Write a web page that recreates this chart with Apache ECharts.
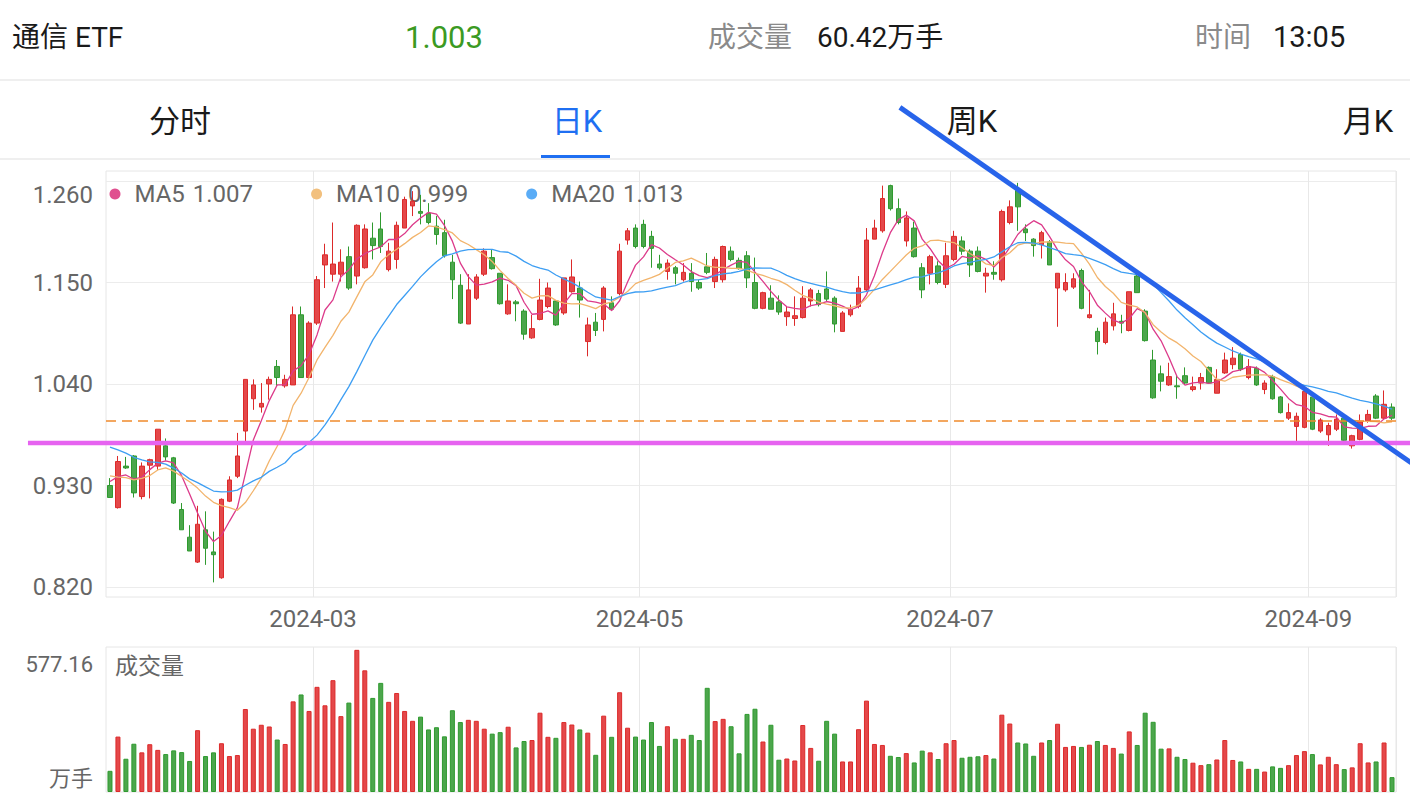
<!DOCTYPE html>
<html><head><meta charset="utf-8">
<script src="https://cdn.jsdelivr.net/npm/echarts@6/dist/echarts.min.js"></script>
<style>html,body{margin:0;padding:0;background:#fff}#c{width:1410px;height:804px}</style>
</head><body><div id="c"></div>
<script>
// ---------- data ----------
const dates = [
'2024-01-17','2024-01-18','2024-01-19','2024-01-22','2024-01-23','2024-01-24','2024-01-25','2024-01-26','2024-01-29','2024-01-30','2024-01-31',
'2024-02-01','2024-02-02','2024-02-05','2024-02-06','2024-02-07','2024-02-08','2024-02-19','2024-02-20','2024-02-21','2024-02-22','2024-02-23','2024-02-26','2024-02-27','2024-02-28','2024-02-29',
'2024-03-01','2024-03-04','2024-03-05','2024-03-06','2024-03-07','2024-03-08','2024-03-11','2024-03-12','2024-03-13','2024-03-14','2024-03-15','2024-03-18','2024-03-19','2024-03-20','2024-03-21','2024-03-22','2024-03-25','2024-03-26','2024-03-27','2024-03-28','2024-03-29',
'2024-04-01','2024-04-02','2024-04-03','2024-04-08','2024-04-09','2024-04-10','2024-04-11','2024-04-12','2024-04-15','2024-04-16','2024-04-17','2024-04-18','2024-04-19','2024-04-22','2024-04-23','2024-04-24','2024-04-25','2024-04-26','2024-04-29','2024-04-30',
'2024-05-06','2024-05-07','2024-05-08','2024-05-09','2024-05-10','2024-05-13','2024-05-14','2024-05-15','2024-05-16','2024-05-17','2024-05-20','2024-05-21','2024-05-22','2024-05-23','2024-05-24','2024-05-27','2024-05-28','2024-05-29','2024-05-30','2024-05-31',
'2024-06-03','2024-06-04','2024-06-05','2024-06-06','2024-06-07','2024-06-11','2024-06-12','2024-06-13','2024-06-14','2024-06-17','2024-06-18','2024-06-19','2024-06-20','2024-06-21','2024-06-24','2024-06-25','2024-06-26','2024-06-27','2024-06-28',
'2024-07-01','2024-07-02','2024-07-03','2024-07-04','2024-07-05','2024-07-08','2024-07-09','2024-07-10','2024-07-11','2024-07-12','2024-07-15','2024-07-16','2024-07-17','2024-07-18','2024-07-19','2024-07-22','2024-07-23','2024-07-24','2024-07-25','2024-07-26','2024-07-29','2024-07-30','2024-07-31',
'2024-08-01','2024-08-02','2024-08-05','2024-08-06','2024-08-07','2024-08-08','2024-08-09','2024-08-12','2024-08-13','2024-08-14','2024-08-15','2024-08-16','2024-08-19','2024-08-20','2024-08-21','2024-08-22','2024-08-23','2024-08-26','2024-08-27','2024-08-28','2024-08-29','2024-08-30',
'2024-09-02','2024-09-03','2024-09-04','2024-09-05','2024-09-06','2024-09-09','2024-09-10','2024-09-11','2024-09-12','2024-09-13','2024-09-18'
];
const opens = [
0.930,0.906,0.951,0.962,0.918,0.952,0.951,0.973,0.960,0.904,0.874,0.847,0.882,0.858,0.830,0.913,0.940,0.989,1.024,1.015,
1.040,1.059,1.038,1.039,1.115,1.047,1.106,1.169,1.159,1.159,1.178,1.157,1.166,1.198,1.208,1.164,1.175,1.209,1.233,1.227,
1.225,1.211,1.204,1.172,1.147,1.105,1.133,1.159,1.177,1.160,1.116,1.129,1.119,1.090,1.110,1.124,1.130,1.117,1.140,1.144,
1.086,1.107,1.110,1.128,1.138,1.196,1.209,1.213,1.200,1.170,1.162,1.166,1.153,1.160,1.150,1.167,1.151,1.153,1.184,1.174,
1.179,1.150,1.122,1.133,1.129,1.113,1.111,1.112,1.130,1.138,1.143,1.133,1.097,1.115,1.124,1.142,1.197,1.206,1.255,1.230,
1.195,1.209,1.166,1.160,1.168,1.148,1.175,1.195,1.184,1.184,1.157,1.161,1.153,1.215,1.250,1.208,1.197,1.191,1.194,1.144,
1.142,1.145,1.163,1.112,1.097,1.085,1.103,1.108,1.098,1.157,1.119,1.066,1.051,1.039,1.038,1.049,1.034,1.041,1.058,1.030,
1.052,1.061,1.072,1.047,1.057,1.034,1.048,1.026,1.003,0.994,0.993,1.026,0.989,0.985,0.991,1.003,0.973,0.980,1.000,1.027,
1.003,1.015
];
const closes = [
0.917,0.956,0.949,0.922,0.951,0.958,0.991,0.961,0.911,0.882,0.859,0.888,0.862,0.855,0.915,0.936,0.962,1.045,1.039,1.019,
1.045,1.047,1.045,1.115,1.047,1.106,1.153,1.180,1.170,1.172,1.144,1.212,1.208,1.190,1.189,1.184,1.212,1.240,1.238,1.225,
1.215,1.202,1.179,1.153,1.106,1.142,1.156,1.184,1.165,1.127,1.130,1.127,1.094,1.100,1.131,1.144,1.104,1.155,1.156,1.131,
1.104,1.098,1.144,1.121,1.184,1.206,1.189,1.189,1.187,1.166,1.171,1.160,1.161,1.151,1.144,1.161,1.175,1.189,1.175,1.165,
1.155,1.122,1.139,1.121,1.118,1.118,1.114,1.133,1.142,1.126,1.132,1.105,1.117,1.121,1.144,1.196,1.209,1.241,1.230,1.215,
1.220,1.178,1.142,1.178,1.150,1.179,1.200,1.184,1.169,1.162,1.160,1.159,1.227,1.232,1.232,1.204,1.190,1.204,1.169,1.160,
1.150,1.154,1.122,1.115,1.086,1.107,1.116,1.106,1.140,1.139,1.087,1.025,1.043,1.048,1.037,1.041,1.037,1.047,1.041,1.045,
1.066,1.068,1.056,1.059,1.039,1.041,1.024,1.009,1.009,1.005,1.032,0.991,1.001,0.995,1.002,0.979,0.984,0.999,1.007,1.003,
1.018,1.003
];
const lows = [
0.917,0.905,0.948,0.917,0.915,0.916,0.947,0.957,0.910,0.882,0.859,0.846,0.844,0.825,0.829,0.912,0.938,0.978,1.012,1.009,
1.023,1.038,1.036,1.039,1.047,1.047,1.104,1.144,1.151,1.151,1.142,1.148,1.165,1.175,1.182,1.162,1.165,1.209,1.222,1.213,
1.213,1.191,1.177,1.132,1.105,1.105,1.131,1.157,1.164,1.126,1.115,1.108,1.088,1.089,1.109,1.122,1.103,1.115,1.139,1.112,
1.070,1.092,1.097,1.119,1.136,1.191,1.187,1.187,1.166,1.164,1.153,1.148,1.151,1.140,1.142,1.159,1.144,1.150,1.173,1.164,
1.144,1.121,1.121,1.121,1.115,1.103,1.103,1.111,1.124,1.124,1.130,1.096,1.097,1.113,1.122,1.140,1.197,1.204,1.228,1.213,
1.189,1.177,1.133,1.148,1.148,1.144,1.173,1.180,1.156,1.161,1.139,1.153,1.151,1.213,1.206,1.195,1.178,1.176,1.169,1.102,
1.140,1.143,1.121,1.111,1.072,1.083,1.098,1.095,1.097,1.139,1.086,1.024,1.032,1.038,1.024,1.040,1.032,1.034,1.040,1.030,
1.051,1.056,1.054,1.045,1.038,1.029,1.023,1.008,1.001,0.978,0.992,0.990,0.987,0.973,0.989,0.978,0.970,0.979,0.998,1.002,
1.002,1.001
];
const highs = [
0.938,0.962,0.961,0.963,0.955,0.959,0.991,0.981,0.961,0.911,0.887,0.908,0.902,0.880,0.916,0.940,0.987,1.045,1.045,1.041,
1.048,1.066,1.050,1.124,1.124,1.108,1.157,1.192,1.215,1.186,1.189,1.213,1.213,1.215,1.226,1.193,1.216,1.243,1.249,1.245,
1.236,1.222,1.218,1.180,1.159,1.159,1.159,1.187,1.186,1.160,1.148,1.131,1.121,1.115,1.154,1.150,1.131,1.155,1.175,1.151,
1.112,1.117,1.146,1.135,1.192,1.209,1.213,1.218,1.206,1.180,1.175,1.168,1.171,1.171,1.153,1.182,1.178,1.190,1.189,1.177,
1.184,1.177,1.140,1.147,1.136,1.124,1.135,1.146,1.144,1.142,1.162,1.135,1.119,1.126,1.157,1.209,1.218,1.255,1.256,1.241,
1.227,1.216,1.171,1.180,1.173,1.193,1.206,1.200,1.186,1.189,1.166,1.173,1.229,1.239,1.258,1.213,1.198,1.206,1.196,1.160,
1.160,1.160,1.165,1.142,1.101,1.112,1.128,1.115,1.140,1.160,1.121,1.077,1.060,1.063,1.049,1.058,1.048,1.052,1.059,1.056,
1.074,1.080,1.074,1.067,1.059,1.044,1.050,1.027,1.019,1.009,1.033,1.027,1.003,0.998,1.007,1.005,0.985,1.007,1.012,1.029,
1.033,1.019
];
// volume in 万手
const volumes = [
86,225,135,196,161,194,171,154,169,162,126,251,146,161,198,146,150,337,257,273,
266,213,195,368,396,329,427,352,454,308,363,577.16,494,382,443,366,402,329,289,306,
254,263,226,332,284,293,289,257,237,243,265,181,207,211,322,224,220,284,274,254,
241,151,310,224,405,261,225,213,284,187,267,216,216,232,211,423,288,297,267,157,
317,338,205,273,131,136,128,272,179,127,289,237,124,124,255,371,195,191,147,142,
158,120,168,161,134,198,211,139,143,145,150,136,314,278,201,197,147,201,211,277,
183,187,183,192,207,191,179,156,246,191,322,285,176,177,143,134,119,109,113,132,
211,130,124,94,94,83,104,98,109,150,166,154,112,143,113,93,100,198,120,124,
201,60.42
];
// closes before the visible window (estimated, only used to seed the moving averages)
const priorCloses = [1.020,1.015,1.012,1.008,1.005,1.000,0.998,0.995,0.990,0.985,0.970,0.955,0.945,0.935,0.928,0.930,0.940,0.945,0.940];
const maPeriods = [5, 10, 20];
const maNames = ['MA5', 'MA10', 'MA20'];
const maLegendValues = ['1.007', '0.999', '1.013'];
const yTickMin = 0.82, yTickMax = 1.26, yTickStep = 0.11;
const xTickLabels = ['2024-03', '2024-05', '2024-07', '2024-09'];
const supportLevel = 0.976;
const supportExtentIdx = [-10.3, 163.4];
const trendPoints = [['2024-07-11', 1.251], ['2024-09-09', 0.999]];
const trendExtentIdx = [99.2, 163.4];
const stockName = '通信 ETF';
const quoteTime = '13:05';
const tabs = ['分时', '日K', '周K', '月K'];

// ---------- build ----------
const FONT = 'Roboto, "Noto Sans CJK SC", sans-serif';
const RED = '#e4484a', RED_B = '#dc2a2a', GREEN = '#4ca64c', GREEN_B = '#2f9a2f';
const maColors = ['#dc3a8a', '#f2b46c', '#3d9ef3'];
const maDotColors = ['#e0508f', '#f2c07e', '#5aacf6'];

function movingAverage(n) {
  const all = priorCloses.concat(closes);
  const off = priorCloses.length;
  return closes.map((_, i) => {
    let s = 0;
    for (let k = 0; k < n; k++) s += all[off + i - k];
    return +(s / n).toFixed(4);
  });
}
const tickIdx = xTickLabels.map(l => dates.findIndex(d => d.startsWith(l)));
const isTick = i => tickIdx.indexOf(i) >= 0;
const kData = dates.map((d, i) => [opens[i], closes[i], lows[i], highs[i]]);
const volData = volumes.map((v, i) => ({
  value: v,
  itemStyle: closes[i] >= opens[i] ? { color: RED, borderColor: RED_B } : { color: GREEN, borderColor: GREEN_B }
}));
const volMax = Math.max(...volumes);
const lastPrice = closes[closes.length - 1];
const lastVol = volumes[volumes.length - 1];

const tabCenters = [180, 577, 972, 1368];
const HF = 28;
const graphics = [
  { type: 'text', x: 12, y: 37, style: { text: stockName, fontSize: HF, fontFamily: FONT, fill: '#1a1a1a', align: 'left', verticalAlign: 'middle' } },
  { type: 'text', x: 444, y: 37, style: { text: lastPrice.toFixed(3), fontSize: 31, fontFamily: FONT, fill: '#3b9a23', align: 'center', verticalAlign: 'middle' } },
  { type: 'text', x: 708, y: 37, style: { text: '成交量', fontSize: HF, fontFamily: FONT, fill: '#8a8a8a', align: 'left', verticalAlign: 'middle' } },
  { type: 'text', x: 817, y: 37, style: { text: lastVol.toFixed(2) + '万手', fontSize: HF, fontFamily: FONT, fill: '#1a1a1a', align: 'left', verticalAlign: 'middle' } },
  { type: 'text', x: 1195, y: 37, style: { text: '时间', fontSize: HF, fontFamily: FONT, fill: '#8a8a8a', align: 'left', verticalAlign: 'middle' } },
  { type: 'text', x: 1273, y: 37, style: { text: quoteTime, fontSize: 29, fontFamily: FONT, fill: '#1a1a1a', align: 'left', verticalAlign: 'middle' } },
  { type: 'rect', shape: { x: 0, y: 79, width: 1410, height: 2 }, style: { fill: '#efefef' } },
  { type: 'rect', shape: { x: 0, y: 158, width: 1410, height: 2 }, style: { fill: '#efefef' } },
  { type: 'rect', shape: { x: 541, y: 155, width: 69, height: 3 }, style: { fill: '#1f6ff2' } },
  { type: 'text', x: 93, y: 664, style: { text: String(volMax), fontSize: 22, fontFamily: FONT, fill: '#666', align: 'right', verticalAlign: 'middle' } },
  { type: 'text', x: 93, y: 778, style: { text: '万手', fontSize: 22, fontFamily: FONT, fill: '#666', align: 'right', verticalAlign: 'middle' } },
  { type: 'text', x: 115, y: 666, style: { text: '成交量', fontSize: 23, fontFamily: FONT, fill: '#666', align: 'left', verticalAlign: 'middle' } }
];
tabs.forEach((t, i) => graphics.push({ type: 'text', x: tabCenters[i], y: 121, style: { text: t, fontSize: 31, fontFamily: FONT, fill: i === 1 ? '#1f6ff2' : '#1a1a1a', align: 'center', verticalAlign: 'middle' } }));

const series = [
  {
    name: 'K', type: 'candlestick', xAxisIndex: 1, yAxisIndex: 1, data: kData, barWidth: 5,
    itemStyle: { color: RED, color0: GREEN, borderColor: RED_B, borderColor0: GREEN_B, borderWidth: 1 },
    markLine: { symbol: 'none', silent: true, label: { show: false }, lineStyle: { type: [10, 6], color: '#f08a2c', width: 1.5 }, data: [{ yAxis: lastPrice }] }
  }
];
maPeriods.forEach((p, k) => series.push({
  name: maNames[k], type: 'line', xAxisIndex: 1, yAxisIndex: 1, data: movingAverage(p), showSymbol: false, symbol: 'none',
  lineStyle: { color: maColors[k], width: 1.3 }, itemStyle: { color: maDotColors[k] }, z: 3
}));
series.push({ name: 'VOL', type: 'bar', xAxisIndex: 2, yAxisIndex: 2, data: volData, barWidth: 5, itemStyle: { borderWidth: 1 } });

const option = {
  animation: false,
  textStyle: { fontFamily: FONT },
  grid: [
    { left: 106, right: 14, top: 171, height: 426, show: true, borderColor: '#e6e6e6', borderWidth: 1 },
    { left: 106, right: 14, top: 181, height: 406 },
    { left: 106, right: 14, top: 647, height: 145, show: true, borderColor: '#e6e6e6', borderWidth: 1 }
  ],
  xAxis: [
    { gridIndex: 0, type: 'category', data: dates, boundaryGap: true, axisLine: { show: false }, axisTick: { show: false },
      splitLine: { show: true, interval: i => isTick(i), lineStyle: { color: '#e8e8e8' } },
      axisLabel: { interval: i => isTick(i), formatter: v => v.slice(0, 7), color: '#666', fontSize: 24, margin: 10, padding: [0, 8, 0, 0] } },
    { gridIndex: 1, type: 'category', data: dates, boundaryGap: true, show: false },
    { gridIndex: 2, type: 'category', data: dates, boundaryGap: true, axisLine: { show: false }, axisTick: { show: false }, axisLabel: { show: false },
      splitLine: { show: true, interval: i => isTick(i), lineStyle: { color: '#e8e8e8' } } }
  ],
  yAxis: [
    { gridIndex: 0, type: 'value', show: false, min: 0, max: 1 },
    { gridIndex: 1, type: 'value', min: yTickMin, max: yTickMax, interval: yTickStep, axisLine: { show: false }, axisTick: { show: false },
      splitLine: { lineStyle: { color: '#ececec' } },
      axisLabel: { color: '#666', fontSize: 24, margin: 13,
        formatter: v => Math.abs(v - yTickMax) < 1e-6 ? '{t|' + v.toFixed(3) + '}' : v.toFixed(3),
        rich: { t: { padding: [28, 0, 0, 0], fontSize: 24, color: '#666', fontFamily: FONT } } } },
    { gridIndex: 2, type: 'value', min: 0, max: volMax * 1.02, show: false }
  ],
  legend: {
    data: maNames.map((n, k) => ({ name: n, itemStyle: { color: maDotColors[k] } })),
    left: 109.5, top: 182, padding: 0, icon: 'circle', itemWidth: 11, itemHeight: 11, itemGap: 58, selectedMode: false, z: 1,
    formatter: n => '{n|' + n + '}{v|' + maLegendValues[maNames.indexOf(n)] + '}',
    textStyle: { color: '#666', fontSize: 24, padding: [0, 0, 0, 9],
      rich: { n: { color: '#666', fontSize: 24, fontFamily: FONT }, v: { color: '#666', fontSize: 24, fontFamily: FONT, padding: [0, 0, 0, 8] } } }
  },
  graphic: graphics,
  series: series
};

const chart = echarts.init(document.getElementById('c'), null, { renderer: 'svg' });
chart.setOption(option);

// annotations anchored to the chart's scales
const c0 = chart.convertToPixel({ xAxisIndex: 1 }, 0);
const c1 = chart.convertToPixel({ xAxisIndex: 1 }, 1);
const band = c1 - c0;
const idxToX = f => c0 + f * band;
const ySupport = chart.convertToPixel({ yAxisIndex: 1 }, supportLevel);
const p1 = chart.convertToPixel({ gridIndex: 1 }, [dates.indexOf(trendPoints[0][0]), trendPoints[0][1]]);
const p2 = chart.convertToPixel({ gridIndex: 1 }, [dates.indexOf(trendPoints[1][0]), trendPoints[1][1]]);
const slope = (p2[1] - p1[1]) / (p2[0] - p1[0]);
const tx1 = idxToX(trendExtentIdx[0]), tx2 = idxToX(trendExtentIdx[1]);
chart.setOption({
  graphic: graphics.concat([
    { type: 'line', z: 100, shape: { x1: idxToX(supportExtentIdx[0]), y1: ySupport, x2: idxToX(supportExtentIdx[1]), y2: ySupport }, style: { stroke: '#e663f0', lineWidth: 4.5 } },
    { type: 'line', z: 101, shape: { x1: tx1, y1: p1[1] + slope * (tx1 - p1[0]), x2: tx2, y2: p1[1] + slope * (tx2 - p1[0]) }, style: { stroke: '#2864ea', lineWidth: 5 } }
  ])
});
</script>
</body></html>
